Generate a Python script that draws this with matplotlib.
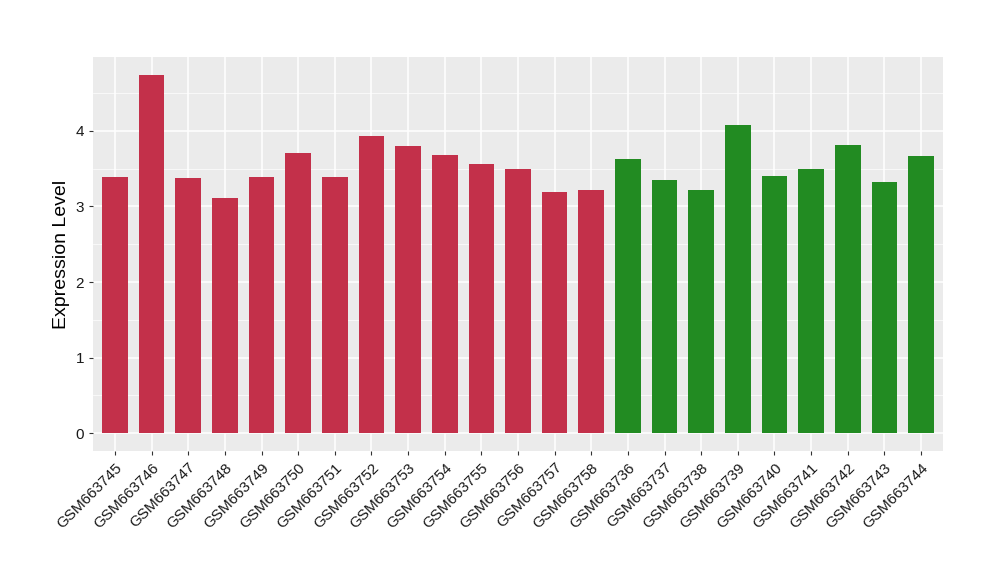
import numpy as np
import matplotlib
matplotlib.use("Agg")
import matplotlib.pyplot as plt

plt.rcParams['font.family'] = ['Liberation Sans', 'DejaVu Sans']

samples = ["GSM663745", "GSM663746", "GSM663747", "GSM663748", "GSM663749",
           "GSM663750", "GSM663751", "GSM663752", "GSM663753", "GSM663754",
           "GSM663755", "GSM663756", "GSM663757", "GSM663758",
           "GSM663736", "GSM663737", "GSM663738", "GSM663739", "GSM663740",
           "GSM663741", "GSM663742", "GSM663743", "GSM663744"]
values = [3.39, 4.74, 3.38, 3.11, 3.39, 3.70, 3.39, 3.93, 3.80, 3.68,
          3.56, 3.50, 3.19, 3.22,
          3.62, 3.35, 3.22, 4.08, 3.40, 3.50, 3.81, 3.32, 3.67]
groups = ["a"] * 14 + ["b"] * 9
group_colors = {"a": "#C3304A", "b": "#228B22"}

fig = plt.figure(figsize=(10, 5.8), dpi=100)
ax = fig.add_axes([0.093, 0.222, 0.85, 0.680])

x = np.arange(len(samples))
ax.set_facecolor("#EBEBEB")
ax.bar(x, values, width=0.7, color=[group_colors[g] for g in groups], zorder=3)

vmax = max(values)
ax.set_ylim(-0.05 * vmax, vmax * 1.05)
ax.set_xlim(-0.6, len(samples) - 1 + 0.6)
ax.set_yticks([0, 1, 2, 3, 4])
ax.set_yticks([0.5, 1.5, 2.5, 3.5, 4.5], minor=True)
ax.grid(True, which="major", color="white", linewidth=1.1, zorder=0)
ax.grid(True, which="minor", axis="y", color="white", linewidth=0.5, zorder=0)
ax.set_axisbelow(True)
for s in ax.spines.values():
    s.set_visible(False)

ax.set_xticks(x)
ax.set_xticklabels(samples, rotation=45, ha="right", rotation_mode="anchor",
                   fontsize=11, color="#1A1A1A")
ax.tick_params(axis="both", which="major", length=3, color="#333333", labelsize=11)
ax.tick_params(axis="y", which="minor", length=0)
ax.tick_params(axis="y", labelcolor="#1A1A1A")
ax.set_ylabel("Expression Level", fontsize=14)

fig.savefig("out.png", dpi=100)
